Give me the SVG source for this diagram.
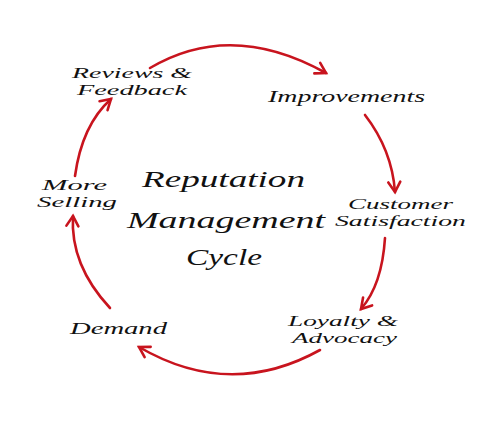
<svg xmlns="http://www.w3.org/2000/svg" width="500" height="425" viewBox="0 0 500 425">
<style>
.lbl{font-family:"Liberation Serif","Times New Roman",serif;font-style:italic;font-size:16px;fill:#111}
.lbl2{font-family:"Liberation Serif","Times New Roman",serif;font-style:italic;font-size:14.5px;fill:#111}
.title{font-family:"Liberation Serif","Times New Roman",serif;font-style:italic;font-size:24px;fill:#111}
.conn{fill:none;stroke:#c8141e;stroke-width:2.6;stroke-linecap:round;marker-end:url(#ah)}
</style>
<defs>
<marker id="ah" viewBox="-13 -8 16 16" markerWidth="16" markerHeight="16" refX="0" refY="0" orient="auto" markerUnits="userSpaceOnUse">
<path d="M-10,-6 L0,0 L-10,6" fill="none" stroke="#c8141e" stroke-width="2.6" stroke-linecap="round" stroke-linejoin="miter"/>
</marker>
</defs>
<rect width="500" height="425" fill="#fff"/>
<g id="connectors">
<path class="conn" d="M150,68 Q231,20 326,73"/>
<path class="conn" d="M365,115 Q392,150 395,192"/>
<path class="conn" d="M385,238 Q382,285 361,309"/>
<path class="conn" d="M320,350 Q230,400 139,347"/>
<path class="conn" d="M110,308 Q70,265 73,216"/>
<path class="conn" d="M75,176 Q82,125 111,99"/>
</g>
<g id="title">
<text class="title" x="142" y="187" textLength="163" lengthAdjust="spacingAndGlyphs">Reputation</text>
<text class="title" x="127" y="228" textLength="198" lengthAdjust="spacingAndGlyphs">Management</text>
<text class="title" x="186" y="265" textLength="76" lengthAdjust="spacingAndGlyphs">Cycle</text>
</g>
<g id="reviews">
<text class="lbl2" x="72" y="78" textLength="120" lengthAdjust="spacingAndGlyphs">Reviews &amp;</text>
<text class="lbl2" x="77" y="95" textLength="110" lengthAdjust="spacingAndGlyphs">Feedback</text>
</g>
<g id="improvements">
<text class="lbl" x="268" y="102" textLength="157" lengthAdjust="spacingAndGlyphs">Improvements</text>
</g>
<g id="satisfaction">
<text class="lbl2" x="348" y="209" textLength="105" lengthAdjust="spacingAndGlyphs">Customer</text>
<text class="lbl2" x="335" y="226" textLength="131" lengthAdjust="spacingAndGlyphs">Satisfaction</text>
</g>
<g id="loyalty">
<text class="lbl2" x="288" y="326" textLength="110" lengthAdjust="spacingAndGlyphs">Loyalty &amp;</text>
<text class="lbl2" x="292" y="343" textLength="105" lengthAdjust="spacingAndGlyphs">Advocacy</text>
</g>
<g id="demand">
<text class="lbl" x="70" y="334" textLength="97" lengthAdjust="spacingAndGlyphs">Demand</text>
</g>
<g id="selling">
<text class="lbl2" x="42" y="190" textLength="65" lengthAdjust="spacingAndGlyphs">More</text>
<text class="lbl2" x="37" y="207" textLength="80" lengthAdjust="spacingAndGlyphs">Selling</text>
</g>
</svg>
